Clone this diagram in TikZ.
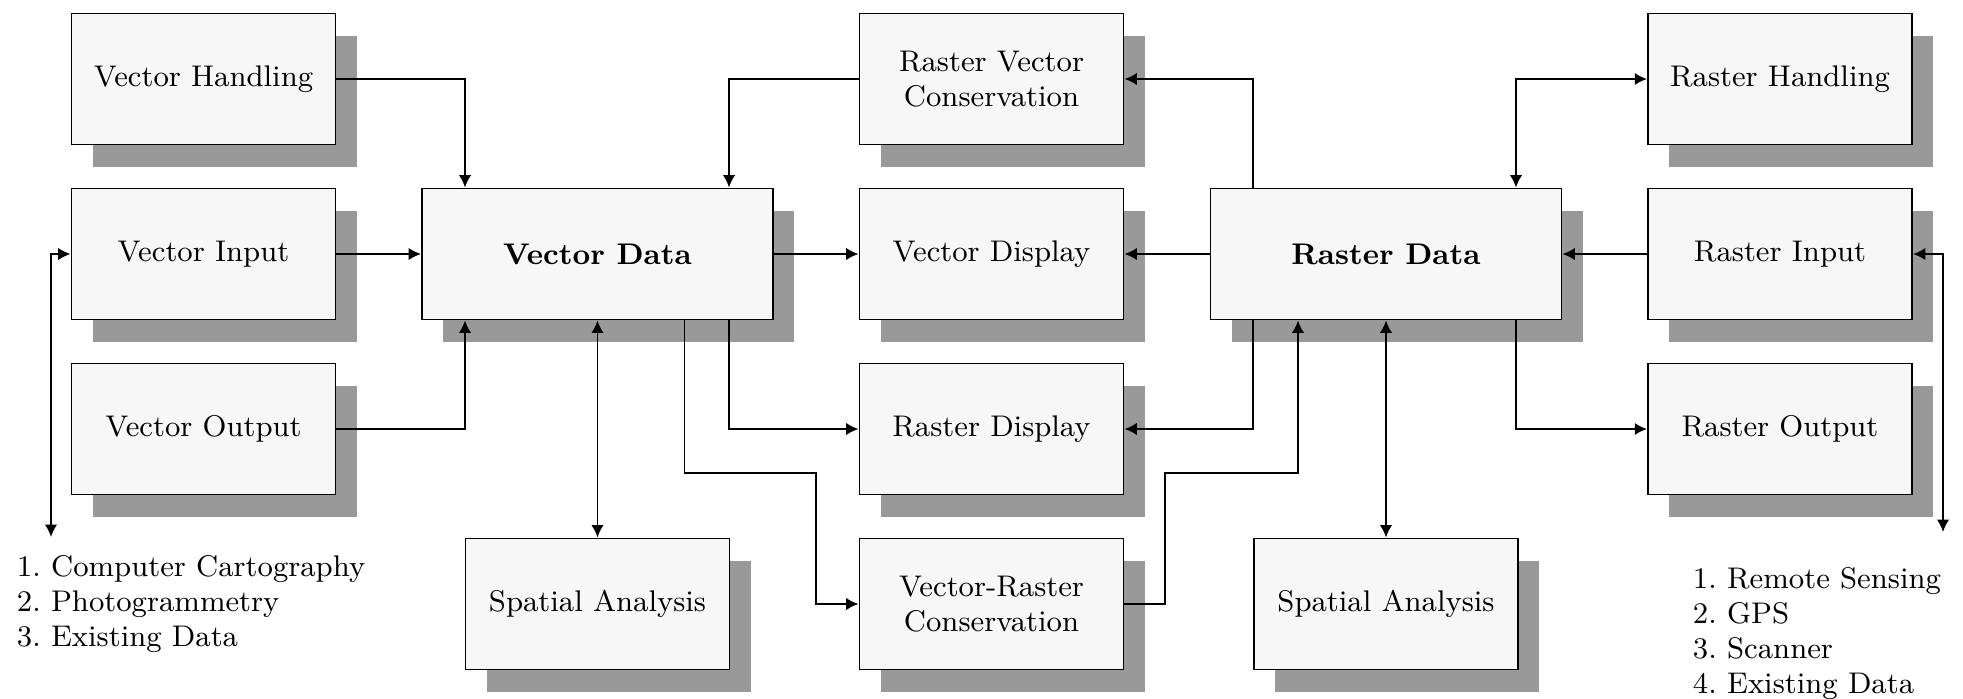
\documentclass[tikz,border=0pt]{standalone}
\usetikzlibrary{arrows.meta,shadows}
\begin{document}
\begin{tikzpicture}[>={Latex[length=3.5pt,width=3.5pt]},line width=0.55pt,
box/.style={draw,fill=black!3,minimum width=2.64cm,minimum height=1.31cm,inner sep=0pt,align=center,font=\fontsize{8.5}{10}\selectfont,
drop shadow={shadow xshift=0.21cm,shadow yshift=-0.22cm,fill=black!40,opacity=1}},
databox/.style={box,minimum width=3.51cm,font=\fontsize{8.5}{10}\selectfont\bfseries},
list/.style={anchor=north west,inner sep=0pt,align=left,font=\fontsize{8.5}{10}\selectfont\frenchspacing}]
\useasboundingbox (0,0) rectangle (19.63,-6.98);
%vector side
\node[box](vh) at (2.035,-0.79){Vector Handling};
\node[box](vi) at (2.035,-2.54){Vector Input};
\node[box](vo) at (2.035,-4.29){Vector Output};
\node[databox](vd) at (5.975,-2.54){Vector Data};
\node[box](sa1) at (5.975,-6.04){Spatial Analysis};
%middle
\node[box](rvc) at (9.915,-0.79){Raster Vector\\Conservation};
\node[box](vdis) at (9.915,-2.54){Vector Display};
\node[box](rdis) at (9.915,-4.29){Raster Display};
\node[box](vrc) at (9.915,-6.04){Vector-Raster\\Conservation};
%raster side
\node[databox](rd) at (13.86,-2.54){Raster Data};
\node[box](sa2) at (13.86,-6.04){Spatial Analysis};
\node[box](rh) at (17.80,-0.79){Raster Handling};
\node[box](ri) at (17.80,-2.54){Raster Input};
\node[box](ro) at (17.80,-4.29){Raster Output};
%lists
\node[list](vsrc) at (0.16,-5.54){1. Computer Cartography\\2. Photogrammetry\\3. Existing Data};
\node[list](rsrc) at (16.92,-5.66){1. Remote Sensing\\2. GPS\\3. Scanner\\4. Existing Data};
%bends
\coordinate(vbend) at (8.16,-4.73);
\coordinate(rbend) at (11.65,-4.73);
\coordinate(vend) at (0.51,-5.37);
\coordinate(rend) at (19.43,-5.32);
%connectors
\draw[->](vh)-|([xshift=-1.325cm]vd.north);
\draw[->](rvc)-|([xshift=1.315cm]vd.north);
\draw[->](vi)--(vd);
\draw[->](vo)-|([xshift=-1.325cm]vd.south);
\draw[->](vd)--(vdis);
\draw[->]([xshift=1.315cm]vd.south)|-(rdis);
\draw[->]([xshift=0.87cm]vd.south)|-(vbend)|-(vrc);
\draw[<->](vd)--(sa1);
\draw[->]([xshift=-1.33cm]rd.north)|-(rvc);
\draw[->](rd)--(vdis);
\draw[->]([xshift=-1.33cm]rd.south)|-(rdis);
\draw[->](vrc)-|(rbend)-|([xshift=-0.88cm]rd.south);
\draw[<->](rd)--(sa2);
\draw[<->]([xshift=1.3cm]rd.north)|-(rh);
\draw[->](ri)--(rd);
\draw[->]([xshift=1.3cm]rd.south)|-(ro);
\draw[<->](vend)|-(vi);
\draw[<->](rend)|-(ri);
\end{tikzpicture}
\end{document}
